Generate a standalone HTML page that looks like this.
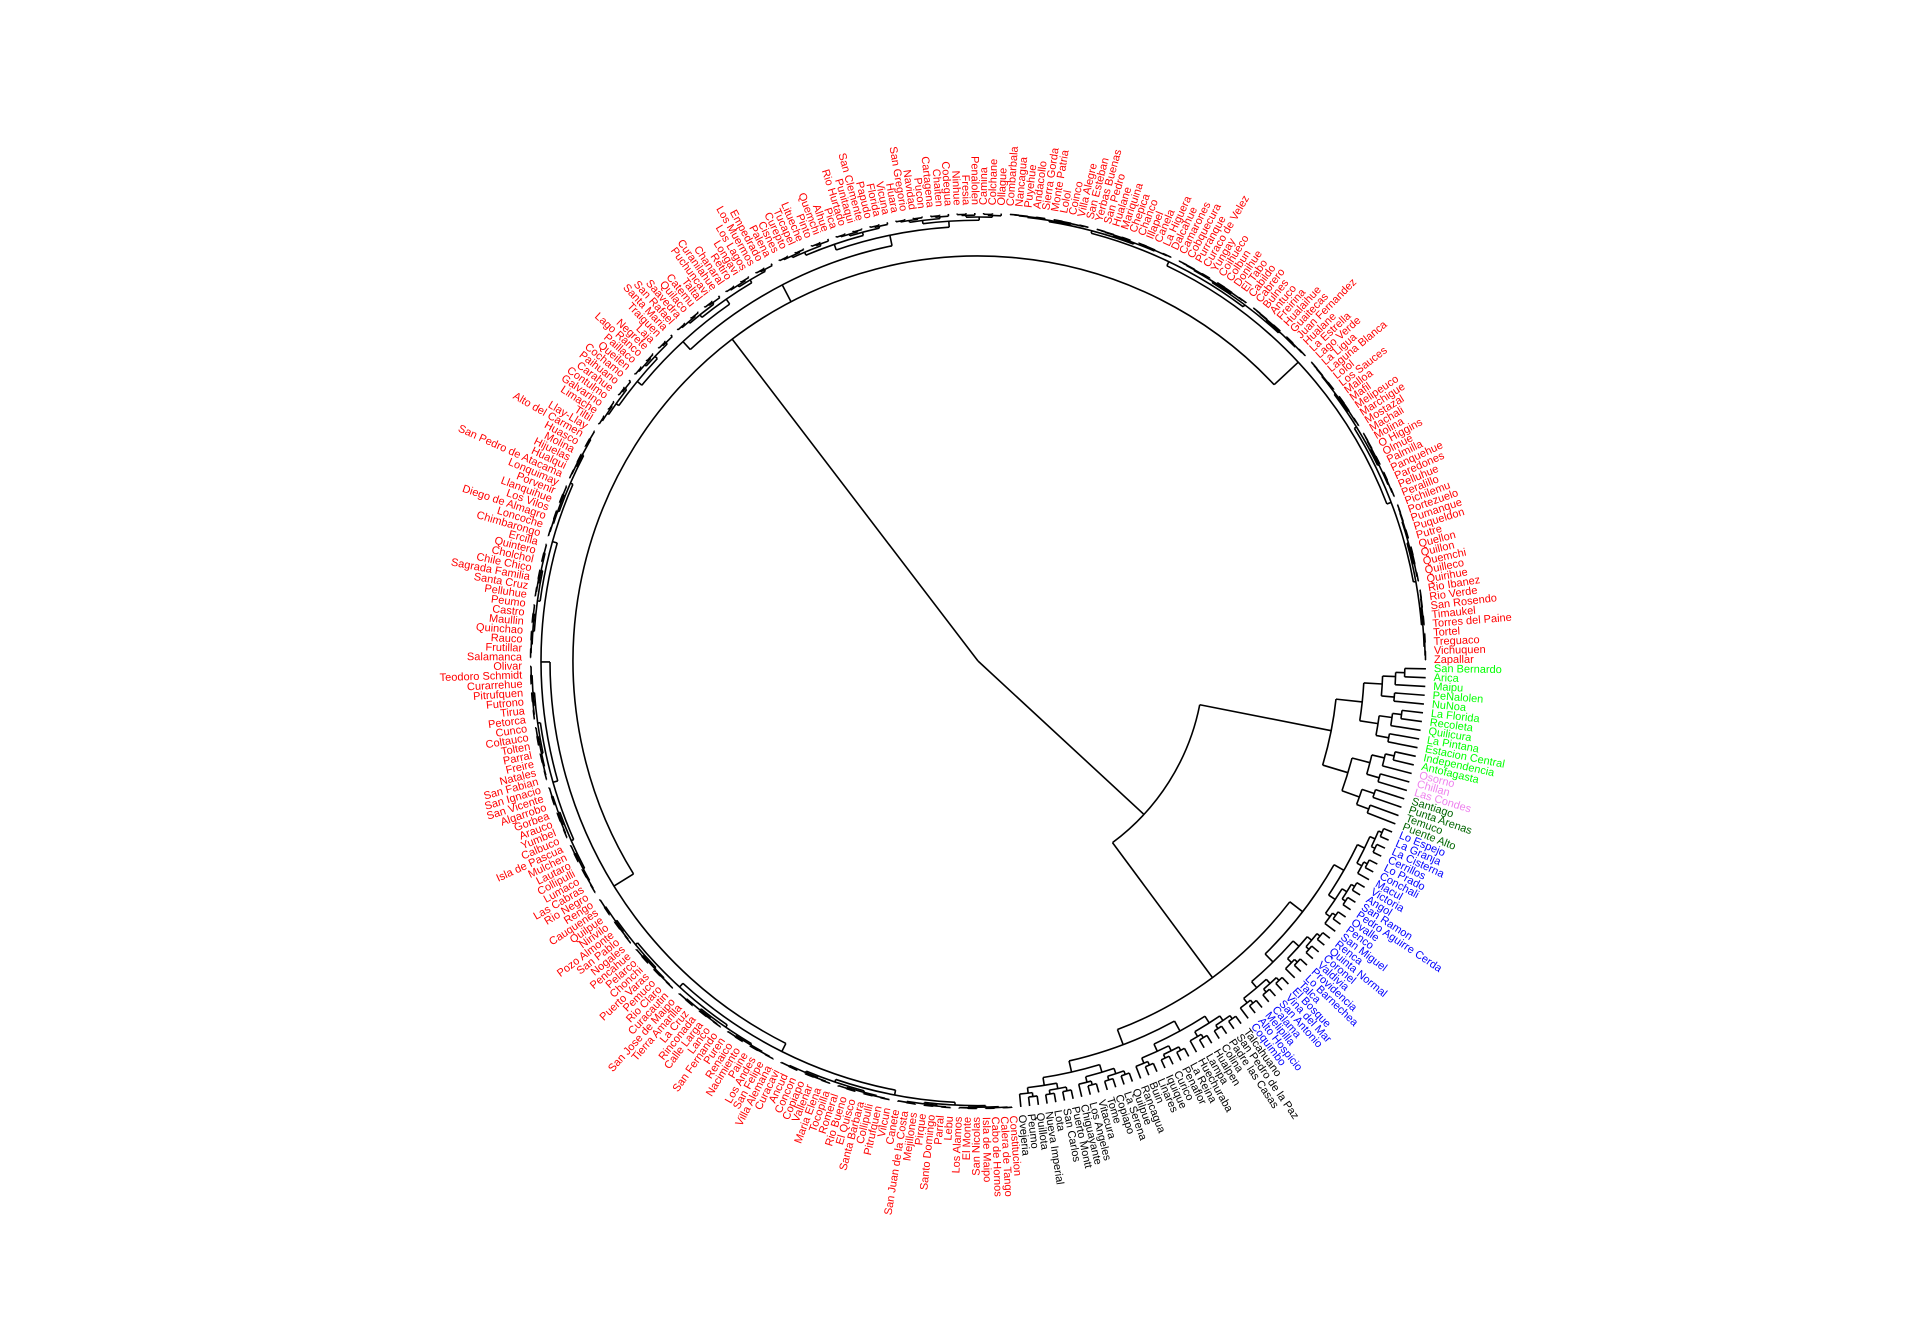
<!DOCTYPE html>
<html><head><meta charset="utf-8"><style>
html,body{margin:0;padding:0;background:#fff;}
svg{display:block;}
text{font-family:"Liberation Sans",sans-serif;font-size:11px;}
</style></head><body>
<svg id="chart" width="1920" height="1344" viewBox="0 0 1920 1344" xmlns="http://www.w3.org/2000/svg">
<g id="branches" fill="none" stroke="#000" stroke-width="1.6"></g>
<g id="labels"></g>
</svg>
<script>
const greenNames=["San Bernardo","Arica","Maipu","PeNalolen","NuNoa","La Florida","Recoleta","Quilicura","La Pintana","Estacion Central","Independencia","Antofagasta"];
const violetNames=["Osorno","Chillan","Las Condes"];
const darkNames=["Santiago","Punta Arenas","Temuco","Puente Alto"];
const blueNames=["Lo Espejo","La Granja","La Cisterna","Cerrillos","Lo Prado","Conchali","Macul","Victoria","Angol","San Ramon","Pedro Aguirre Cerda","Ovalle","Penco","San Miguel","Renca","Quinta Normal","Coronel","Valdivia","Providencia","Lo Barnechea","Talca","El Bosque","Vina del Mar","San Antonio","Calama","Melipilla","Alto Hospicio","Coquimbo"];
const blackNames=["Talcahuano","San Pedro de la Paz","Padre las Casas","Colina","Hualpen","Lampa","Huechuraba","La Reina","Penaflor","Curico","Iquique","Linares","Buin","Rancagua","Quilpue","La Serena","Copiapo","Tome","Vitacura","Los Angeles","Chiguayante","Puerto Montt","San Carlos","Lota","Nueva Imperial","Quillota","Peumo","Ovejeria"];
const redNames=["Constitucion","Calera de Tango","Cabo de Hornos","Isla de Maipo","San Nicolas","El Monte","Los Alamos","Lebu","Parral","Santo Domingo","Pirque","Mejillones","San Juan de la Costa","Canete","Vilcun","Pitrufquen","Collipulli","Santa Barbara","El Quisco","Rio Bueno","Romeral","Tocopilla","Maria Elena","Vallenar","Copiapo","Concon","Ancud","Curacavi","Villa Alemana","San Felipe","Los Andes","Paine","Nacimiento","Renaico","Puren","San Fernando","Lanco","Calle Larga","Rinconada","La Cruz","Tierra Amarilla","San Jose de Maipo","Curacautin","Rio Claro","Pemuco","Puerto Varas","Chonchi","Pelarco","Pencahue","Nogales","San Pablo","Pozo Almonte","Nirivilo","Quilpue","Cauquenes","Rengo","Rio Negro","Las Cabras","Lumaco","Collipulli","Lautaro","Mulchen","Isla de Pascua","Calbuco","Yumbel","Arauco","Gorbea","Algarrobo","San Vicente","San Ignacio","San Fabian","Natales","Freire","Parral","Tolten","Coltauco","Cunco","Petorca","Tirua","Futrono","Pitrufquen","Curarrehue","Teodoro Schmidt","Olivar","Salamanca","Frutillar","Rauco","Quinchao","Maullin","Castro","Peumo","Pelluhue","Santa Cruz","Sagrada Familia","Chile Chico","Cholchol","Quintero","Ercilla","Chimbarongo","Loncoche","Diego de Almagro","Los Vilos","Llanquihue","Porvenir","Lonquimay","San Pedro de Atacama","Hualqui","Hijuelas","Molina","Huasco","Alto del Carmen","Llay-Llay","Tiltil","Limache","Galvarino","Contulmo","Carahue","Paihuano","Cochamo","Queilen","Paillaco","Lago Ranco","Negrete","Laja","Traiguen","Santa Maria","San Rafael","Saavedra","Quilaco","Catemu","Taltal","Puchuncavi","Curanilahue","Chanaral","Retiro","Longavi","Los Lagos","Los Muermos","Empedrado","Palena","Cisnes","Curepto","Tucapel","Litueche","Pinto","Quemchi","Alhue","Pica","Rio Hurtado","Punitaqui","San Clemente","Papudo","Florida","Vicuna","Huara","San Gregorio","Navidad","Pucon","Cartagena","Chaiten","Codegua","Ninhue","Fresia","Penalolen","Camina","Colchane","Ollague","Combarbala","Nancagua","Puyehue","Andacollo","Sierra Gorda","Monte Patria","Lolol","Coinco","Villa Alegre","San Esteban","Yerbas Buenas","San Pedro","Hualane","Mariquina","Chepica","Chanco","Illapel","Canela","La Higuera","Dalcahue","Camarones","Cobquecura","Purranque","Curaco de Velez","Yungay","Coihueco","Colbun","Donihue","El Tabo","Cabildo","Cabrero","Bulnes","Antuco","Freirina","Hualaihue","Guaitecas","Juan Fernandez","Hualane","La Estrella","Lago Verde","La Ligua","Laguna Blanca","Lolol","Los Sauces","Malloa","Mafil","Melipeuco","Marchigue","Mostazal","Machali","Molina","O Higgins","Olmue","Palmilla","Panquehue","Paredones","Pelluhue","Peralillo","Pichilemu","Portezuelo","Pumanque","Puqueldon","Putre","Quellon","Quillon","Quemchi","Quilleco","Quirihue","Rio Ibanez","Rio Verde","San Rosendo","Timaukel","Torres del Paine","Tortel","Treguaco","Vichuquen","Zapallar"];

const groups=[{names:greenNames,color:"#00ff00"},{names:violetNames,color:"#ee82ee"},{names:darkNames,color:"#006400"},{names:blueNames,color:"#0000ff"},{names:blackNames,color:"#000000"},{names:redNames,color:"#ff0000"}];
// merge heights (radius from root) of top-level clusters
const clusterNames=["rest","red","metro","blue-black","red-a","red-b","red-c"];
const clusterHeights=[226,405,360,394,428,424,438];

const CX=978,CY=661,RTIP=448,RLAB=456;
const tips=[];
groups.forEach(g=>g.names.forEach(n=>tips.push({name:n,color:g.color})));
const N=tips.length, STEP=360/N, START=1;
const ang=i=>(START+i*STEP)*Math.PI/180;
const bg=document.getElementById('branches');
const lg=document.getElementById('labels');
const NS="http://www.w3.org/2000/svg";
function pt(r,a){return [CX+r*Math.cos(a),CY+r*Math.sin(a)];}
function radial(a,r0,r1,name){
  const p=document.createElementNS(NS,'line');
  const [x0,y0]=pt(r0,a),[x1,y1]=pt(r1,a);
  p.setAttribute('x1',x0);p.setAttribute('y1',y0);p.setAttribute('x2',x1);p.setAttribute('y2',y1);
  
  
  bg.appendChild(p);
}
function arc(r,a0,a1,name){
  if(Math.abs(a1-a0)<1e-6)return;
  if(a1<a0){const t=a0;a0=a1;a1=t;}
  const [x0,y0]=pt(r,a0),[x1,y1]=pt(r,a1);
  const large=(a1-a0)>Math.PI?1:0;
  const p=document.createElementNS(NS,'path');
  p.setAttribute('d',`M${x0},${y0} A${r},${r} 0 ${large} 1 ${x1},${y1}`);
  
  
  bg.appendChild(p);
}
let FACT=0.3;
function nodeAngle(a,b){return (ang(a)+ang(b))/2;}
function build(lo,hi,r){
  if(lo===hi){radial(ang(lo),r,RTIP,'tip-branch');return ang(lo);}
  const mid=Math.floor((lo+hi)/2);
  const rc=r+(RTIP-r)*FACT;
  const kids=[[lo,mid],[mid+1,hi]];
  const as=kids.map(([a,b])=>{
    if(a===b){radial(ang(a),r,RTIP,'tip-branch');return ang(a);}
    const ca=nodeAngle(a,b);radial(ca,r,rc,'branch');build(a,b,rc);return ca;});
  arc(r,as[0],as[1],'branch-arc');
  return (as[0]+as[1])/2;
}
function cluster(lo,hi,r,parentR,name){
  const a=nodeAngle(lo,hi);radial(a,parentR,r,name);build(lo,hi,r);return a;
}
const nG=greenNames.length+violetNames.length+darkNames.length;
const nBB=blueNames.length+blackNames.length;
const redLo=nG+nBB, redHi=N-1;
const restA=nodeAngle(0,redLo-1);
radial(restA,0,clusterHeights[0],'rest-stem');
const aM=cluster(0,nG-1,clusterHeights[2],clusterHeights[0],'metro-stem');
const aB=cluster(nG,redLo-1,clusterHeights[3],clusterHeights[0],'blue-black-stem');
arc(clusterHeights[0],aM,aB,'rest-arc');
FACT=0.45;
const rs=[[redLo,redLo+111],[redLo+112,redLo+166],[redLo+167,redHi]];
const ra=rs.map((s,k)=>cluster(s[0],s[1],clusterHeights[4+k],clusterHeights[1],'red-sub-stem'));
const redNode=(ra[0]+ra[2])/2;
radial(redNode,0,clusterHeights[1],'red-stem');
arc(clusterHeights[1],ra[0],ra[2],'red-arc');
tips.forEach((t,i)=>{
  const a=ang(i);const deg=a*180/Math.PI;
  const [x,y]=pt(RLAB,a);
  const tx=document.createElementNS(NS,'text');
  const d=((deg%360)+360)%360;
  const flip=d>90&&d<270;
  tx.setAttribute('x',x);tx.setAttribute('y',y);
  tx.setAttribute('fill',t.color);
  tx.setAttribute('dominant-baseline','central');
  tx.setAttribute('text-anchor',flip?'end':'start');
  tx.setAttribute('transform',`rotate(${flip?deg-180:deg} ${x} ${y})`);
  tx.textContent=t.name;
  
  
  lg.appendChild(tx);
});
</script>
</body></html>
